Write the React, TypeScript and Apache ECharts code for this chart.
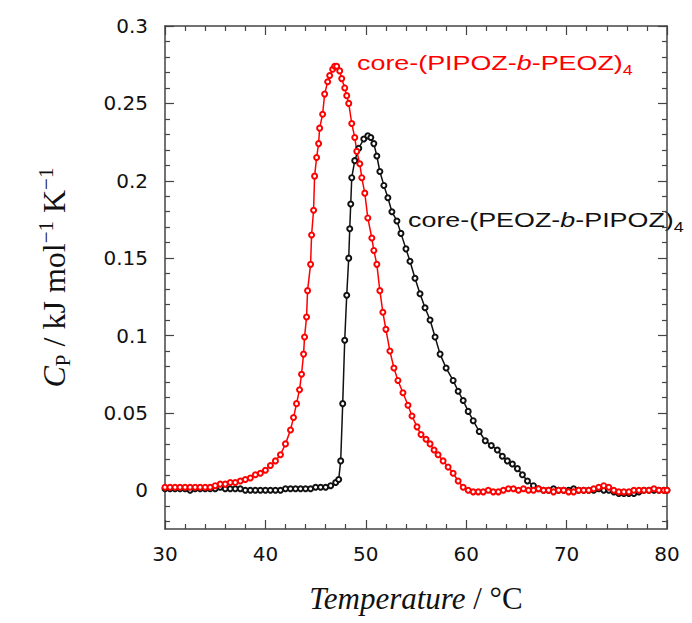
import React, { useEffect, useRef } from "react";
import * as echarts from "echarts";

// core-(PIPOZ-b-PEOZ)4 (red)
const redT = [
  30.0, 30.5, 31.0, 31.5, 32.0, 32.5, 33.0, 33.5, 34.0, 34.5, 35.0, 35.5, 36.0, 36.5, 37.0, 37.5,
  38.0, 38.5, 39.0, 39.5, 40.0, 40.5, 41.0, 41.5, 42.0, 42.5, 42.8, 43.1, 43.4, 43.6, 43.8, 43.9,
  44.1, 44.2, 44.5, 44.6, 44.8, 44.9, 45.1, 45.3, 45.4, 45.7, 45.9, 46.2, 46.4, 46.7, 46.9, 47.1,
  47.4, 47.6, 47.9, 48.1, 48.3, 48.6, 48.9, 49.1, 49.4, 49.6, 49.9, 50.2, 50.6, 50.8, 51.1, 51.4,
  51.7, 52.0, 52.4, 52.8, 53.2, 53.7, 54.2, 54.6, 55.1, 55.5, 56.0, 56.4, 56.8, 57.2, 57.7, 58.2,
  58.7, 59.2, 59.7, 60.2, 60.7, 61.2, 61.7, 62.2, 62.7, 63.2, 63.7, 64.2, 64.7, 65.2, 65.7, 66.2,
  66.7, 67.2, 67.7, 68.2, 68.7, 69.2, 69.7, 70.2, 70.7, 71.2, 71.7, 72.2, 72.7, 73.2, 73.7, 74.2,
  74.7, 75.2, 75.7, 76.2, 76.7, 77.2, 77.7, 78.2, 78.7, 79.2, 79.7, 80.0,
];
const redCp = [
  0.002, 0.002, 0.002, 0.002, 0.002, 0.002, 0.002, 0.002, 0.002, 0.002, 0.003, 0.004, 0.004, 0.005, 0.005, 0.006,
  0.007, 0.008, 0.010, 0.011, 0.013, 0.016, 0.019, 0.023, 0.030, 0.039, 0.047, 0.056, 0.065, 0.075, 0.088, 0.099,
  0.112, 0.129, 0.146, 0.165, 0.181, 0.203, 0.215, 0.224, 0.234, 0.243, 0.256, 0.264, 0.268, 0.272, 0.274, 0.274,
  0.271, 0.266, 0.260, 0.255, 0.250, 0.237, 0.228, 0.219, 0.211, 0.202, 0.192, 0.176, 0.163, 0.155, 0.146, 0.129,
  0.115, 0.104, 0.090, 0.079, 0.071, 0.063, 0.055, 0.048, 0.041, 0.036, 0.033, 0.030, 0.026, 0.023, 0.019, 0.015,
  0.011, 0.006, 0.002, 0.000, -0.001, -0.001, -0.001, 0.000, -0.001, -0.001, 0.000, 0.001, 0.001, 0.000, 0.001, 0.000,
  0.000, 0.001, 0.000, 0.000, -0.001, 0.000, 0.000, -0.001, -0.001, 0.000, 0.000, 0.000, 0.001, 0.002, 0.003, 0.002,
  0.000, -0.001, -0.001, -0.001, 0.000, 0.000, 0.000, 0.000, 0.001, 0.000, 0.000, 0.000,
];

// core-(PEOZ-b-PIPOZ)4 (black)
const blackT = [
  30.0, 30.5, 31.0, 31.5, 32.0, 32.5, 33.0, 33.5, 34.0, 34.5, 35.0, 35.5, 36.0, 36.5, 37.0, 37.5,
  38.0, 38.5, 39.0, 39.5, 40.0, 40.5, 41.0, 41.5, 42.0, 42.5, 43.0, 43.5, 44.0, 44.5, 45.0, 45.5,
  46.0, 46.5, 47.0, 47.3, 47.5, 47.7, 47.9, 48.1, 48.3, 48.4, 48.5, 48.6, 48.9, 49.3, 49.8, 50.2,
  50.5, 50.8, 51.1, 51.4, 51.8, 52.2, 52.6, 53.1, 53.5, 54.0, 54.4, 54.9, 55.4, 55.9, 56.4, 56.9,
  57.4, 58.0, 58.7, 59.2, 59.7, 60.2, 60.7, 61.3, 61.9, 62.5, 63.1, 63.6, 64.1, 64.6, 65.1, 65.6,
  66.1, 66.7, 67.2, 67.7, 68.2, 68.7, 69.2, 69.7, 70.2, 70.7, 71.2, 71.7, 72.2, 72.7, 73.2, 73.7,
  74.2, 74.7, 75.2, 75.7, 76.2, 76.7, 77.2, 77.7, 78.2, 78.7, 79.2, 79.7, 80.0,
];
const blackCp = [
  0.001, 0.001, 0.001, 0.001, 0.001, 0.000, 0.001, 0.001, 0.001, 0.001, 0.001, 0.002, 0.001, 0.001, 0.001, 0.001,
  0.000, 0.000, 0.000, 0.000, 0.000, 0.000, 0.000, 0.000, 0.001, 0.001, 0.001, 0.001, 0.001, 0.001, 0.002, 0.002,
  0.002, 0.003, 0.005, 0.007, 0.019, 0.056, 0.097, 0.126, 0.150, 0.169, 0.185, 0.202, 0.213, 0.221, 0.227, 0.229,
  0.228, 0.224, 0.216, 0.206, 0.197, 0.189, 0.180, 0.174, 0.166, 0.156, 0.148, 0.137, 0.127, 0.118, 0.110, 0.099,
  0.088, 0.079, 0.071, 0.064, 0.058, 0.051, 0.045, 0.038, 0.032, 0.029, 0.026, 0.022, 0.019, 0.017, 0.014, 0.010,
  0.006, 0.003, 0.001, 0.000, 0.000, 0.001, 0.000, 0.000, 0.000, 0.001, 0.000, 0.000, 0.000, 0.000, 0.001, 0.000,
  0.000, -0.001, -0.002, -0.002, -0.002, -0.002, -0.001, 0.000, 0.000, 0.000, 0.000, 0.000, 0.000,
];

const yMajorValues = [0, 0.05, 0.1, 0.15, 0.2, 0.25, 0.3];
const yMinorValues = [
  -0.02, -0.01, 0.01, 0.02, 0.03, 0.04, 0.06, 0.07, 0.08, 0.09, 0.11, 0.12, 0.13, 0.14,
  0.16, 0.17, 0.18, 0.19, 0.21, 0.22, 0.23, 0.24, 0.26, 0.27, 0.28, 0.29,
];

const AXIS_COLOR = "#444";
const RED = "#ff0000";
const BLACK = "#111111";

export default function App() {
  const ref = useRef<HTMLDivElement>(null);

  useEffect(() => {
    if (!ref.current) return;
    const chart = echarts.init(ref.current, null, { renderer: "svg" });

    const redData = redT.map((t, i) => [t, redCp[i]]);
    const blackData = blackT.map((t, i) => [t, blackCp[i]]);

    const yBase = {
      type: "value" as const,
      min: -0.025,
      max: 0.3,
      splitLine: { show: false },
    };

    const option: any = {
      animation: false,
      backgroundColor: "#ffffff",
      grid: { left: 165, right: 25, top: 26, bottom: 94, containLabel: false },
      xAxis: [
        {
          type: "value",
          min: 30,
          max: 80,
          interval: 10,
          position: "bottom",
          axisLine: { show: true, onZero: false, lineStyle: { color: AXIS_COLOR, width: 1.5 } },
          axisTick: { show: true, inside: true, length: 9, lineStyle: { color: AXIS_COLOR, width: 1.2 } },
          minorTick: { show: true, splitNumber: 5, length: 5, lineStyle: { color: AXIS_COLOR, width: 1.2 } },
          splitLine: { show: false },
          axisLabel: { fontSize: 20, fontFamily: "DejaVu Sans", color: "#111", margin: 15 },
          name: "{i|Temperature}{n| / °C}",
          nameLocation: "middle",
          nameGap: 54,
          nameTextStyle: {
            rich: {
              i: { fontFamily: "Liberation Serif", fontStyle: "italic", fontSize: 31, color: "#111" },
              n: { fontFamily: "Liberation Serif", fontSize: 31, color: "#111" },
            },
          },
        },
        {
          type: "value",
          min: 30,
          max: 80,
          interval: 10,
          position: "top",
          axisLine: { show: true, onZero: false, lineStyle: { color: AXIS_COLOR, width: 1.5 } },
          axisTick: { show: true, inside: true, length: 9, lineStyle: { color: AXIS_COLOR, width: 1.2 } },
          minorTick: { show: true, splitNumber: 5, length: 5, lineStyle: { color: AXIS_COLOR, width: 1.2 } },
          splitLine: { show: false },
          axisLabel: { show: false },
        },
      ],
      yAxis: [
        {
          ...yBase,
          position: "left",
          axisLine: { show: true, onZero: false, lineStyle: { color: AXIS_COLOR, width: 1.5 } },
          axisTick: {
            show: true,
            inside: true,
            length: 9,
            customValues: yMajorValues,
            lineStyle: { color: AXIS_COLOR, width: 1.2 },
          },
          axisLabel: {
            customValues: yMajorValues,
            fontSize: 20,
            fontFamily: "DejaVu Sans",
            color: "#111",
            margin: 17,
          },
          name: "{i|C}{sub|P}{n| / kJ mol}{sup|−1}{n| K}{sup|−1}",
          nameLocation: "middle",
          nameRotate: 90,
          nameGap: 92,
          nameTextStyle: {
            rich: {
              i: { fontFamily: "Liberation Serif", fontStyle: "italic", fontSize: 32, lineHeight: 38, color: "#111" },
              n: { fontFamily: "Liberation Serif", fontSize: 32, lineHeight: 38, color: "#111" },
              sub: { fontFamily: "Liberation Serif", fontSize: 21, lineHeight: 18, verticalAlign: "bottom", color: "#111" },
              sup: { fontFamily: "Liberation Serif", fontSize: 21, lineHeight: 18, verticalAlign: "top", color: "#111" },
            },
          },
        },
        {
          ...yBase,
          position: "left",
          axisLine: { show: false },
          axisTick: {
            show: true,
            inside: true,
            length: 5,
            customValues: yMinorValues,
            lineStyle: { color: AXIS_COLOR, width: 1.2 },
          },
          axisLabel: { show: false },
        },
        {
          ...yBase,
          position: "right",
          axisLine: { show: true, onZero: false, lineStyle: { color: AXIS_COLOR, width: 1.5 } },
          axisTick: {
            show: true,
            inside: true,
            length: 9,
            customValues: yMajorValues,
            lineStyle: { color: AXIS_COLOR, width: 1.2 },
          },
          axisLabel: { show: false },
        },
        {
          ...yBase,
          position: "right",
          axisLine: { show: false },
          axisTick: {
            show: true,
            inside: true,
            length: 5,
            customValues: yMinorValues,
            lineStyle: { color: AXIS_COLOR, width: 1.2 },
          },
          axisLabel: { show: false },
        },
      ],
      series: [
        {
          name: "core-(PEOZ-b-PIPOZ)4",
          type: "line",
          xAxisIndex: 0,
          yAxisIndex: 0,
          data: blackData,
          symbol: "emptyCircle",
          symbolSize: 5,
          showAllSymbol: true,
          lineStyle: { color: BLACK, width: 1.5 },
          itemStyle: { color: BLACK, borderColor: BLACK, borderWidth: 1 },
          clip: true,
        },
        {
          name: "core-(PIPOZ-b-PEOZ)4",
          type: "line",
          xAxisIndex: 0,
          yAxisIndex: 0,
          data: redData,
          symbol: "emptyCircle",
          symbolSize: 5,
          showAllSymbol: true,
          lineStyle: { color: RED, width: 1.5 },
          itemStyle: { color: RED, borderColor: RED, borderWidth: 1 },
          clip: true,
        },
      ],
      graphic: [
        {
          type: "text",
          x: 357,
          y: 63,
          scaleX: 1.28,
          style: {
            text: "{n|core-(PIPOZ-}{b|b}{n|-PEOZ)}{s|4}",
            fill: RED,
            verticalAlign: "middle",
            align: "left",
            rich: {
              n: { fontFamily: "Liberation Sans", fontSize: 21, lineHeight: 28, fill: RED },
              b: { fontFamily: "Liberation Sans", fontStyle: "italic", fontSize: 21, lineHeight: 28, fill: RED },
              s: { fontFamily: "Liberation Sans", fontSize: 14, lineHeight: 12, verticalAlign: "bottom", fill: RED },
            },
          },
        },
        {
          type: "text",
          x: 408,
          y: 220,
          scaleX: 1.28,
          style: {
            text: "{n|core-(PEOZ-}{b|b}{n|-PIPOZ)}{s|4}",
            fill: BLACK,
            verticalAlign: "middle",
            align: "left",
            rich: {
              n: { fontFamily: "Liberation Sans", fontSize: 21, lineHeight: 28, fill: BLACK },
              b: { fontFamily: "Liberation Sans", fontStyle: "italic", fontSize: 21, lineHeight: 28, fill: BLACK },
              s: { fontFamily: "Liberation Sans", fontSize: 14, lineHeight: 12, verticalAlign: "bottom", fill: BLACK },
            },
          },
        },
      ],
    };

    chart.setOption(option);
    return () => {
      chart.dispose();
    };
  }, []);

  return (
    <div
      ref={ref}
      style={{ position: "absolute", left: 0, top: 0, width: 692, height: 623, background: "#fff" }}
    />
  );
}
